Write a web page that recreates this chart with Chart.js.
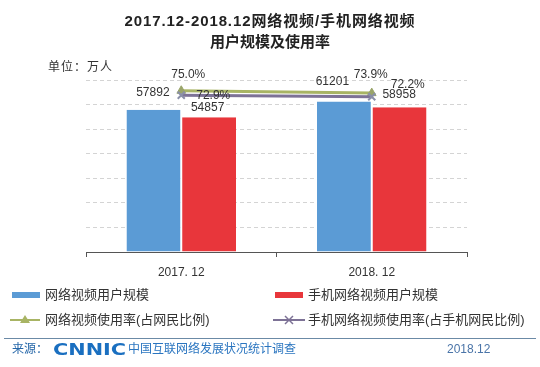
<!DOCTYPE html>
<html>
<head>
<meta charset="utf-8">
<script src="https://cdn.jsdelivr.net/npm/chart.js@4.4.1/dist/chart.umd.min.js"></script>
<style>
  body { margin: 0; background: #fff; }
  #wrap { position: relative; width: 540px; height: 367px; overflow: hidden;
          font-family: "Liberation Sans", "Noto Sans CJK SC", sans-serif; color: #333; }
  #wrap canvas { position: absolute; left: 0; top: 0; }
  .t { position: absolute; white-space: nowrap; line-height: 1; }
  .title { left: 0; width: 540px; text-align: center; font-weight: bold; font-size: 15px; color: #222; }
  .lg { font-size: 13px; color: #333; }
  .sw { position: absolute; height: 6px; }
</style>
</head>
<body>
<div id="wrap">
  <canvas id="mycanvas" width="540" height="367"></canvas>
  <div class="t title" style="top:13px; letter-spacing:0.9px;">2017.12-2018.12网络视频/手机网络视频</div>
  <div class="t title" style="top:34px;">用户规模及使用率</div>
  <div class="t" style="left:48px; top:61px; font-size:12px; letter-spacing:1px;">单位：万人</div>

  <div class="sw" style="left:12px; top:292px; width:28px; background:#5b9bd5;"></div>
  <div class="t lg" style="left:45px; top:288px;">网络视频用户规模</div>
  <div class="sw" style="left:275px; top:292px; width:28px; background:#e8363b;"></div>
  <div class="t lg" style="left:308px; top:288px;">手机网络视频用户规模</div>
  <div class="t lg" style="left:45px; top:313px;">网络视频使用率(占网民比例)</div>
  <div class="t lg" style="left:308px; top:313px;">手机网络视频使用率(占手机网民比例)</div>

  <div style="position:absolute; left:4px; top:338px; width:532px; height:1px; background:#6b8aa6;"></div>
  <div class="t" style="left:12px; top:343px; font-size:12px; color:#2466a8;">来源：</div>
  <div class="t" style="left:53px; top:342px; font-size:16px; font-weight:900; color:#1a6fc0; font-family:'DejaVu Sans', sans-serif; transform:scaleX(1.3); transform-origin:0 0;">CNNIC</div>
  <div class="t" style="left:128px; top:343px; font-size:12px; color:#2a75c0;">中国互联网络发展状况统计调查</div>
  <div class="t" style="left:447px; top:343px; font-size:12px; color:#4a74a8;">2018.12</div>
</div>
<script>
var periods = ['2017. 12', '2018. 12'];
var videoUsers = [57892, 61201];
var mobileVideoUsers = [54857, 58958];
var videoRate = [75.0, 73.9];
var mobileVideoRate = [72.9, 72.2];

// where each value label sits relative to its mark (dx, dy)
var labelOffsets = [
  [[-1, -17], [-12, -20]],
  [[-1, -10], [0, -12]],
  [[7, -16], [-1, -18]],
  [[32, 0], [36, -12]]
];

var valueLabels = {
  id: 'valueLabels',
  afterDatasetsDraw: function(chart) {
    var ctx = chart.ctx;
    ctx.save();
    ctx.font = '12px "Liberation Sans", sans-serif';
    ctx.fillStyle = '#333';
    ctx.textAlign = 'center';
    ctx.textBaseline = 'middle';
    chart.data.datasets.forEach(function(ds, i) {
      var meta = chart.getDatasetMeta(i);
      meta.data.forEach(function(el, j) {
        var v = ds.data[j];
        var txt = ds.type === 'line' ? v.toFixed(1) + '%' : String(v);
        var off = labelOffsets[i][j];
        ctx.fillText(txt, el.x + off[0], el.y + off[1]);
      });
    });
    ctx.restore();
  }
};

// legend line samples with markers
var legendMarks = {
  id: 'legendMarks',
  afterDraw: function(chart) {
    var ctx = chart.ctx;
    ctx.save();
    ctx.lineWidth = 2;
    ctx.strokeStyle = '#a8b464';
    ctx.beginPath(); ctx.moveTo(10, 320); ctx.lineTo(40, 320); ctx.stroke();
    ctx.fillStyle = '#a8b464';
    ctx.beginPath(); ctx.moveTo(25, 315); ctx.lineTo(30, 323); ctx.lineTo(20, 323); ctx.closePath(); ctx.fill();
    ctx.strokeStyle = '#7d7296';
    ctx.beginPath(); ctx.moveTo(273, 320); ctx.lineTo(305, 320); ctx.stroke();
    ctx.lineWidth = 1.5;
    ctx.beginPath();
    ctx.moveTo(285, 316); ctx.lineTo(293, 324);
    ctx.moveTo(293, 316); ctx.lineTo(285, 324);
    ctx.stroke();
    ctx.restore();
  }
};

var ctx = document.getElementById('mycanvas');
var chart = new Chart(ctx, {
  type: 'bar',
  data: {
    labels: periods,
    datasets: [
      {
        label: '网络视频用户规模',
        data: videoUsers,
        backgroundColor: '#5b9bd5',
        borderColor: '#ffffff',
        borderWidth: { left: 0, right: 1, top: 0, bottom: 0 },
        categoryPercentage: 0.575,
        barPercentage: 1.0,
        yAxisID: 'y',
        order: 2
      },
      {
        label: '手机网络视频用户规模',
        data: mobileVideoUsers,
        backgroundColor: '#e8363b',
        borderColor: '#ffffff',
        borderWidth: { left: 1, right: 0, top: 0, bottom: 0 },
        categoryPercentage: 0.575,
        barPercentage: 1.0,
        yAxisID: 'y',
        order: 2
      },
      {
        type: 'line',
        label: '网络视频使用率(占网民比例)',
        data: videoRate,
        borderColor: '#a8b464',
        backgroundColor: '#9aa56a',
        borderWidth: 3,
        pointStyle: 'triangle',
        pointRadius: 5,
        pointBorderWidth: 1,
        pointBorderColor: '#9aa56a',
        yAxisID: 'y1',
        order: 1
      },
      {
        type: 'line',
        label: '手机网络视频使用率(占手机网民比例)',
        data: mobileVideoRate,
        borderColor: '#7d7296',
        borderWidth: 3,
        pointStyle: 'crossRot',
        pointRadius: 5,
        pointBorderWidth: 2,
        pointBorderColor: '#8a8fa8',
        yAxisID: 'y1',
        order: 0
      }
    ]
  },
  options: {
    responsive: false,
    animation: false,
    layout: { padding: { left: 86, right: 73, top: 80, bottom: 0 } },
    plugins: { legend: { display: false }, tooltip: { enabled: false } },
    scales: {
      x: {
        grid: { display: true, offset: true, drawOnChartArea: false, drawTicks: true, tickLength: 5, color: '#555' },
        border: { display: true, color: '#555' },
        ticks: { color: '#333', font: { size: 12, family: '"Liberation Sans", sans-serif' }, padding: 8 },
        afterFit: function(s) { s.height = 115; }
      },
      y: {
        min: 0, max: 70000,
        ticks: { display: false, stepSize: 10000 },
        grid: { color: '#d4d4d4', drawTicks: false },
        border: { display: false, dash: [4, 3] },
        afterFit: function(s) { s.width = 0; }
      },
      y1: {
        display: false,
        min: 0, max: 80
      }
    }
  },
  plugins: [valueLabels, legendMarks]
});
</script>
</body>
</html>
